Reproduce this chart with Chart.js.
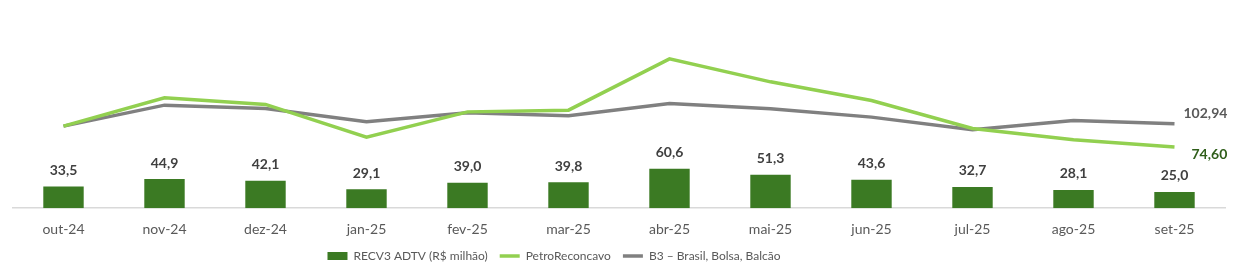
<!DOCTYPE html>
<html>
<head>
<meta charset="utf-8">
<script src="https://cdn.jsdelivr.net/npm/chart.js@4"></script>
<style>
  html, body { margin: 0; padding: 0; background: #fff; }
  #wrap { width: 1243px; height: 274px; }
</style>
</head>
<body>
<div id="wrap"><canvas id="chart" width="1243" height="274"></canvas></div>
<script>
// --------------------- Data ---------------------
const months = ['out-24', 'nov-24', 'dez-24', 'jan-25', 'fev-25', 'mar-25',
                'abr-25', 'mai-25', 'jun-25', 'jul-25', 'ago-25', 'set-25'];
const adtv = [33.5, 44.9, 42.1, 29.1, 39.0, 39.8, 60.6, 51.3, 43.6, 32.7, 28.1, 25.0];
const petro = [100, 134.5, 126.5, 86.6, 117.4, 119.5, 182, 154, 131.3, 97.2, 83.3, 74.6];
const b3 = [100, 125.6, 121.6, 105.3, 116.2, 112.6, 127.7, 121.1, 111, 95.5, 107, 102.94];

const FONT = 'Lato, "Noto Sans", sans-serif';

const fmt = (v, d) => v.toFixed(d).replace('.', ',');

// --------------------- Label Plugin ---------------------
const valueLabels = {
  id: 'valueLabels',
  afterLayout(chart) {
    // legend sits a bit left of centre in the original
    chart.legend.left -= 130;
  },
  beforeDraw(chart) {
    // x scale is squeezed in afterFit, don't let it clip its own labels
    chart.scales.x.bottom = chart.height;
  },
  afterDatasetsDraw(chart) {
    const ctx = chart.ctx;
    ctx.save();
    ctx.textAlign = 'center';
    ctx.textBaseline = 'middle';
    ctx.font = 'bold 14px ' + FONT;
    ctx.fillStyle = '#404040';
    chart.getDatasetMeta(0).data.forEach((bar, i) => {
      ctx.fillText(fmt(adtv[i], 1), bar.x, bar.y - 16);
    });

    // end labels of the lines
    const last = months.length - 1;
    const pEnd = chart.getDatasetMeta(1).data[last];
    const bEnd = chart.getDatasetMeta(2).data[last];
    ctx.textAlign = 'left';
    ctx.fillStyle = '#595959';
    ctx.fillText(fmt(b3[last], 2), bEnd.x + 9, bEnd.y - 10);
    ctx.fillStyle = '#2f5e1a';
    ctx.fillText(fmt(petro[last], 2), pEnd.x + 17, pEnd.y + 7);
    ctx.restore();
  }
};

// --------------------- Chart ---------------------
new Chart(document.getElementById('chart').getContext('2d'), {
  data: {
    labels: months,
    datasets: [
      {
        type: 'bar',
        label: 'RECV3 ADTV (R$ milhão)',
        data: adtv,
        backgroundColor: '#3b7a23',
        barPercentage: 0.4,
        categoryPercentage: 1,
        pointStyle: 'rect',
        yAxisID: 'y',
        order: 3
      },
      {
        type: 'line',
        label: 'PetroReconcavo',
        data: petro,
        borderColor: '#92d050',
        backgroundColor: '#92d050',
        borderWidth: 3.5,
        pointRadius: 0,
        pointStyle: 'line',
        tension: 0,
        yAxisID: 'y2',
        order: 1
      },
      {
        type: 'line',
        label: 'B3 – Brasil, Bolsa, Balcão',
        data: b3,
        borderColor: '#808080',
        backgroundColor: '#808080',
        borderWidth: 3.5,
        pointRadius: 0,
        pointStyle: 'line',
        tension: 0,
        yAxisID: 'y2',
        order: 2
      }
    ]
  },
  options: {
    responsive: false,
    animation: false,
    layout: { padding: { left: 13, right: 18, top: 8, bottom: 2 } },
    scales: {
      x: {
        grid: { display: false },
        border: { color: '#d9d9d9', width: 1.5 },
        ticks: { color: '#595959', font: { family: FONT, size: 14 }, padding: 5 },
        afterFit: (scale) => { scale.height -= 5; }
      },
      y: { display: false, min: 0, max: 308 },
      y2: { display: false, min: 0, max: 244 }
    },
    plugins: {
      legend: {
        position: 'bottom',
        labels: {
          usePointStyle: true,
          pointStyleWidth: 20,
          boxHeight: 8,
          padding: 12,
          color: '#595959',
          font: { family: FONT, size: 12 },
          sort: (a, b) => a.datasetIndex - b.datasetIndex
        }
      },
      tooltip: { enabled: false }
    }
  },
  plugins: [valueLabels]
});
</script>
</body>
</html>
